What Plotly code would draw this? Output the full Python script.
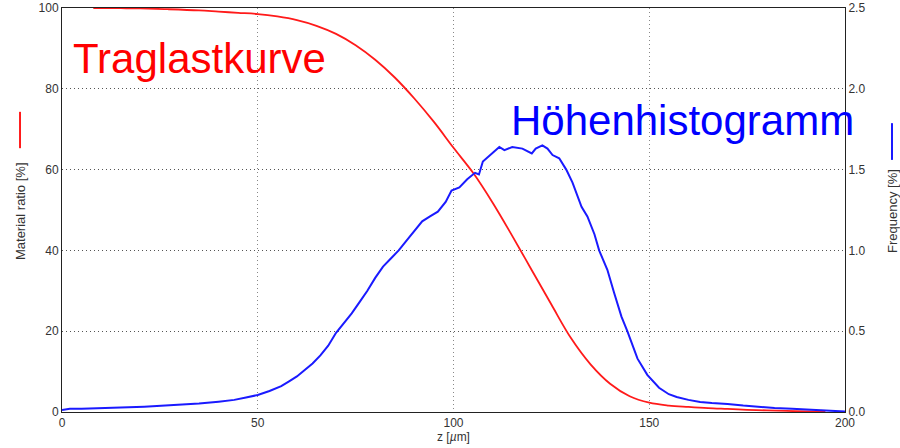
import plotly.graph_objects as go

# Material ratio curve (Abbott-Firestone), z in µm, ratio in %
z_ratio = [8, 15, 20, 27, 35, 40, 45, 50, 55, 60, 65, 70, 75, 80, 85, 90, 95,
           100, 105, 110, 115, 120, 125, 130, 135, 140, 145, 150, 155, 160,
           165, 170, 175, 180, 185, 190, 195]
material_ratio = [100, 99.95, 99.9, 99.7, 99.4, 99.1, 98.8, 98.5, 97.9, 97.0,
                  95.6, 93.6, 90.8, 87.2, 82.8, 77.6, 71.8, 65.4, 59.2, 51.8,
                  43.6, 35.1, 26.6, 18.3, 11.8, 7.0, 3.9, 2.3, 1.6, 1.25,
                  0.95, 0.75, 0.55, 0.4, 0.27, 0.13, 0.05]

# Height histogram, frequency in %
z_hist = [0, 2, 5, 9, 15, 21, 25, 30, 35, 40, 44, 47, 50, 53, 56, 58, 60, 62,
          64, 66, 68, 70, 72, 74, 76, 78, 80, 82, 84, 86, 88, 90, 92, 94, 96,
          98, 99.5, 101.5, 103.5, 105.5, 106.5, 107.5, 109.7, 111.7, 113, 115,
          117.6, 120, 121, 122.7, 124, 125.3, 127, 128.8, 130.4, 132.7, 134.2,
          136, 137.2, 139.3, 141, 142.9, 144.4, 146, 147, 149.5, 152.5, 155,
          157, 160, 163, 166, 170, 174, 178, 182, 186.5, 190, 195, 200]
frequency = [0.012, 0.02, 0.02, 0.025, 0.028, 0.033, 0.038, 0.045, 0.052,
             0.064, 0.075, 0.09, 0.105, 0.13, 0.16, 0.19, 0.22, 0.26, 0.30,
             0.35, 0.41, 0.49, 0.55, 0.61, 0.68, 0.75, 0.83, 0.90, 0.95, 1.00,
             1.06, 1.12, 1.18, 1.21, 1.24, 1.30, 1.37, 1.39, 1.44, 1.48, 1.47,
             1.55, 1.60, 1.64, 1.62, 1.64, 1.63, 1.60, 1.63, 1.65, 1.63, 1.59,
             1.57, 1.50, 1.42, 1.27, 1.21, 1.10, 1.00, 0.88, 0.74, 0.59, 0.50,
             0.39, 0.33, 0.23, 0.15, 0.11, 0.093, 0.075, 0.062, 0.055, 0.05,
             0.04, 0.031, 0.025, 0.02, 0.015, 0.008, 0.003]

x_ticks = [0, 50, 100, 150, 200]
left_ticks = [0, 20, 40, 60, 80, 100]
right_ticks = [0.0, 0.5, 1.0, 1.5, 2.0, 2.5]

RED = "#ff1a1a"
BLUE = "#1a1aff"
FONT = "Liberation Sans, Arial, sans-serif"
TICKFONT = dict(family=FONT, size=12, color="#333333")

fig = go.Figure()
fig.add_trace(go.Scatter(x=z_ratio, y=material_ratio, mode="lines",
                         line=dict(color=RED, width=1.8, shape="spline",
                                   smoothing=1.0),
                         yaxis="y", showlegend=False))
fig.add_trace(go.Scatter(x=z_hist, y=frequency, mode="lines",
                         line=dict(color=BLUE, width=2), yaxis="y2",
                         showlegend=False))

fig.update_layout(
    width=900, height=448,
    margin=dict(l=62, r=55, t=8, b=36, autoexpand=False),
    paper_bgcolor="white", plot_bgcolor="white",
    xaxis=dict(range=[0, 200], tickvals=x_ticks,
               ticktext=[str(v) for v in x_ticks],
               showline=True, linecolor="#222", linewidth=1, mirror=True,
               showgrid=True, gridcolor="#888", griddash="1px,3px", gridwidth=1,
               zeroline=False, ticks="", tickfont=TICKFONT,
               title=dict(text="z [<i>µ</i>m]", font=TICKFONT, standoff=2)),
    yaxis=dict(range=[0, 100], tickvals=left_ticks,
               ticktext=[str(v) for v in left_ticks],
               showline=True, linecolor="#222", linewidth=1,
               showgrid=True, gridcolor="#555", griddash="1px,3px", gridwidth=1,
               zeroline=False, ticks="", tickfont=TICKFONT),
    yaxis2=dict(range=[0, 2.5], tickvals=right_ticks,
                ticktext=[f"{v:.1f}" for v in right_ticks],
                overlaying="y", side="right",
                showline=True, linecolor="#222", linewidth=1,
                showgrid=False, zeroline=False, ticks="", tickfont=TICKFONT),
)

# Curve names written inside the plot
fig.add_annotation(x=2.3, y=87.6, xref="x", yref="y", text="Traglastkurve",
                   showarrow=False, xanchor="left", yanchor="middle",
                   font=dict(family=FONT, size=42, color="#ff0000"))
fig.add_annotation(x=114.2, y=72.2, xref="x", yref="y", text="Höhenhistogramm",
                   showarrow=False, xanchor="left", yanchor="middle",
                   font=dict(family=FONT, size=42, color="#0000ff"))

# Axis titles with small line keys
side_font = dict(family=FONT, size=13, color="#333333")
fig.add_annotation(x=-0.0536, y=0.4975, xref="paper", yref="paper",
                   text="Material ratio [%]", textangle=-90, showarrow=False,
                   xanchor="center", yanchor="middle", font=side_font)
fig.add_annotation(x=1.060, y=0.4975, xref="paper", yref="paper",
                   text="Frequency [%]", textangle=-90, showarrow=False,
                   xanchor="center", yanchor="middle", font=side_font)
fig.add_shape(type="line", xref="paper", yref="paper",
              x0=-0.0536, x1=-0.0536, y0=0.653, y1=0.743,
              line=dict(color=RED, width=2))
fig.add_shape(type="line", xref="paper", yref="paper",
              x0=1.060, x1=1.060, y0=0.624, y1=0.715,
              line=dict(color=BLUE, width=2))

fig.write_html("out.html")
